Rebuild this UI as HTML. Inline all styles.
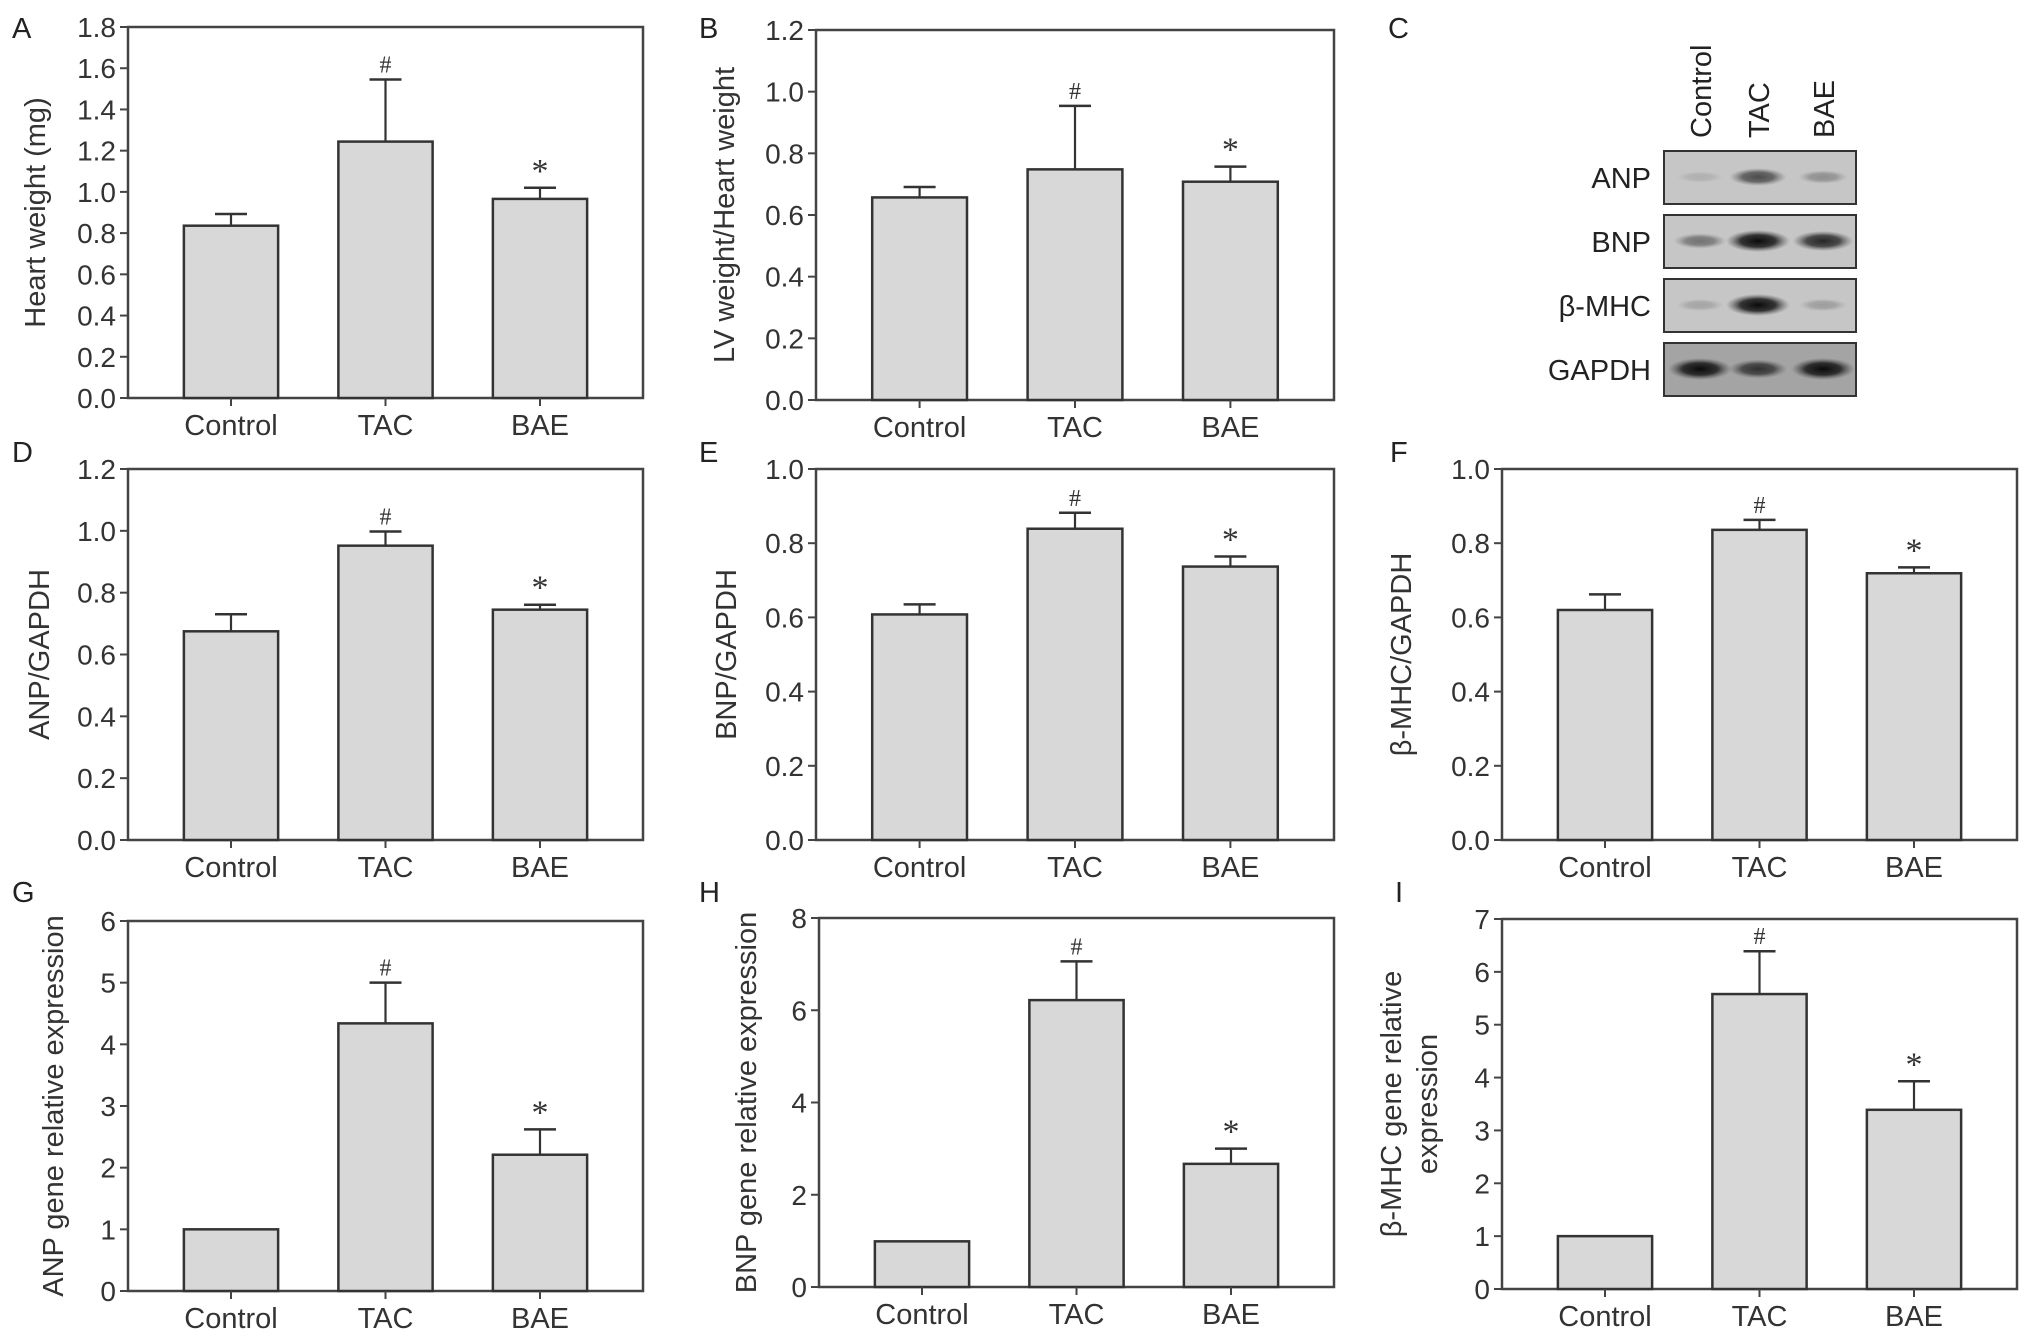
<!DOCTYPE html>
<html><head><meta charset="utf-8"><style>
html,body{margin:0;padding:0;background:#fff}
svg{display:block;font-family:"Liberation Sans",Arial,sans-serif}
</style></head><body>
<svg id="fig" width="2031" height="1338" viewBox="0 0 2031 1338" xmlns="http://www.w3.org/2000/svg">
<defs>
<radialGradient id="band" cx="50%" cy="50%" r="50%"><stop offset="0" stop-color="#0a0a0a" stop-opacity="1"/><stop offset="0.55" stop-color="#1a1a1a" stop-opacity="0.85"/><stop offset="1" stop-color="#555" stop-opacity="0"/></radialGradient>
</defs>
</svg>
<script>
const categories = ["Control","TAC","BAE"];
const aMeans=[0.836,1.244,0.966], aErr=[0.893,1.545,1.02], aTicks=["0.0","0.2","0.4","0.6","0.8","1.0","1.2","1.4","1.6","1.8"];
const bMeans=[0.657,0.748,0.708], bErr=[0.691,0.954,0.757], bTicks=["0.0","0.2","0.4","0.6","0.8","1.0","1.2"];
const dMeans=[0.675,0.952,0.745], dErr=[0.73,0.998,0.761], dTicks=["0.0","0.2","0.4","0.6","0.8","1.0","1.2"];
const eMeans=[0.608,0.839,0.737], eErr=[0.635,0.882,0.764], eTicks=["0.0","0.2","0.4","0.6","0.8","1.0"];
const fMeans=[0.62,0.836,0.719], fErr=[0.662,0.863,0.735], fTicks=["0.0","0.2","0.4","0.6","0.8","1.0"];
const gMeans=[1.0,4.34,2.21], gErr=[1.0,5.0,2.62], gTicks=["0","1","2","3","4","5","6"];
const hMeans=[0.99,6.22,2.67], hErr=[0.99,7.06,3.0], hTicks=["0","2","4","6","8"];
const iMeans=[1.0,5.58,3.39], iErr=[1.0,6.39,3.93], iTicks=["0","1","2","3","4","5","6","7"];
const signif=["","#","*"];
const blotRows=["ANP","BNP","β-MHC","GAPDH"];
const blotIntensity=[[0.12,0.65,0.3],[0.45,1.0,0.85],[0.18,1.0,0.22],[1.0,0.75,1.0]];

const NS="http://www.w3.org/2000/svg";
const svg=document.getElementById('fig');
function mk(tag,attrs,parent){const e=document.createElementNS(NS,tag);for(const k in attrs)e.setAttribute(k,attrs[k]);(parent||svg).appendChild(e);return e;}

function panel(key,letter,lx,ly,box,means,errs,ticks,title,titleX){
  const g=mk('g',{});
  
  
  const [x0,y0,x1,y1]=box, W=x1-x0, H=y1-y0;
  const tmin=parseFloat(ticks[0]), tmax=parseFloat(ticks[ticks.length-1]);
  const ys=v=>y1-(v-tmin)/(tmax-tmin)*H;
  const xs=i=>x0+(0.2+0.3*i)*W;
  const bw=0.183*W;
  const lab=mk('text',{x:lx,y:ly,'font-size':29,fill:'#222'},g);lab.textContent=letter;
  
  
  const fr=mk('rect',{x:x0,y:y0,width:W,height:H,fill:'none',stroke:'#444','stroke-width':2.5},g);
  
  
  ticks.forEach(t=>{const y=ys(parseFloat(t));
    mk('line',{x1:x0-8,x2:x0,y1:y,y2:y,stroke:'#444','stroke-width':2},g);
    const tx=mk('text',{x:x0-12,y:y+10,'font-size':28,'text-anchor':'end',fill:'#333'},g);tx.textContent=t;
    
    
  });
  means.forEach((m,i)=>{const cx=xs(i);
    const r=mk('rect',{x:cx-bw/2,y:ys(m),width:bw,height:ys(tmin)-ys(m),fill:'#d8d8d8',stroke:'#333','stroke-width':2.5},g);
    
    
    if(errs[i]>m){
      mk('line',{x1:cx,x2:cx,y1:ys(m),y2:ys(errs[i]),stroke:'#333','stroke-width':2.2},g);
      const c=mk('line',{x1:cx-16,x2:cx+16,y1:ys(errs[i]),y2:ys(errs[i]),stroke:'#333','stroke-width':2.5},g);
      
      
    }
    if(signif[i]){const s=mk('text',{x:cx,y:ys(errs[i])-(signif[i]==='#'?7:6),'font-size':signif[i]==='#'?24:34,'text-anchor':'middle',fill:'#333','font-family':'"Liberation Serif",serif'},g);s.textContent=signif[i];
      
      }
    mk('line',{x1:cx,x2:cx,y1:y1,y2:y1+8,stroke:'#444','stroke-width':2},g);
    const ct=mk('text',{x:cx,y:y1+37,'font-size':29,'text-anchor':'middle',fill:'#333'},g);ct.textContent=categories[i];
    
    
  });
  const cy=(y0+y1)/2;
  title.forEach((line,k)=>{const tx=titleX[k];
    const t=mk('text',{x:tx,y:cy,'font-size':29,'text-anchor':'middle',fill:'#333',transform:`rotate(-90 ${tx} ${cy})`,'dominant-baseline':'central'},g);t.textContent=line;
    
    
  });
}
panel('a','A',12,38,[128,27,643,398],aMeans,aErr,aTicks,["Heart weight (mg)"],[36]);
panel('b','B',699,38,[816,30,1334,400],bMeans,bErr,bTicks,["LV weight/Heart weight"],[725]);
panel('d','D',12,462,[128,469,643,840],dMeans,dErr,dTicks,["ANP/GAPDH"],[40]);
panel('e','E',699,462,[816,469,1334,840],eMeans,eErr,eTicks,["BNP/GAPDH"],[727]);
panel('f','F',1390,462,[1502,469,2017,840],fMeans,fErr,fTicks,["β-MHC/GAPDH"],[1402]);
panel('g','G',12,902,[128,921,643,1291],gMeans,gErr,gTicks,["ANP gene relative expression"],[54]);
panel('h','H',699,902,[819,918,1334,1287],hMeans,hErr,hTicks,["BNP gene relative expression"],[747]);
panel('i','I',1395,902,[1502,919,2017,1289],iMeans,iErr,iTicks,["β-MHC gene relative","expression"],[1392,1428]);

// Western blot panel C
const gc=mk('g',{});


const cl=mk('text',{x:1388,y:38,'font-size':29,fill:'#222'},gc);cl.textContent='C';


const laneX=[1700,1758,1823];
categories.forEach((c,i)=>{const t=mk('text',{x:laneX[i]+11,y:138,'font-size':29,fill:'#222',transform:`rotate(-90 ${laneX[i]+11} 138)`},gc);t.textContent=c;
  
  });
const rowY=[151,215,279,343];
blotRows.forEach((r,k)=>{
  const y=rowY[k];
  const rb=mk('rect',{x:1664,y:y,width:192,height:53,fill:k===3?'#a4a4a4':'#c6c6c6',stroke:'#333','stroke-width':2},gc);
  
  
  blotIntensity[k].forEach((v,i)=>{
    const e=mk('ellipse',{cx:laneX[i],cy:y+26,rx:22+v*10,ry:5+v*6,fill:'url(#band)',opacity:v},gc);
    
    
  });
  const t=mk('text',{x:1651,y:y+37,'font-size':29,'text-anchor':'end',fill:'#222'},gc);t.textContent=r;
  
  
});
</script>
</body></html>
